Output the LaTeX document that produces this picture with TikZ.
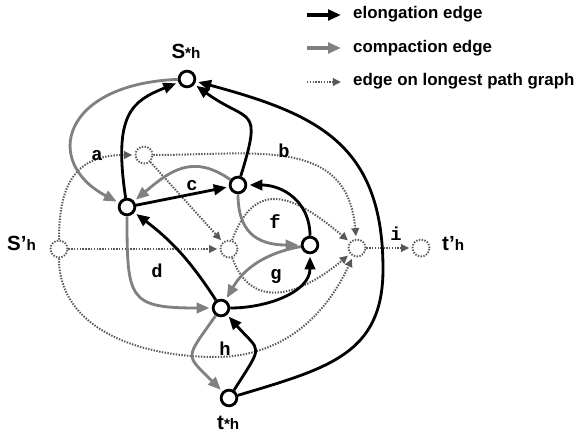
\documentclass[tikz,border=0pt]{standalone}
\usepackage{fontspec}
\setmainfont{Liberation Sans}
\setmonofont{Liberation Mono}
\usetikzlibrary{arrows.meta}

\definecolor{cmpgray}{gray}{0.5}
\definecolor{lpgray}{gray}{0.35}
\newcommand{\Lbig}{\fontsize{17.5pt}{17.5pt}\selectfont\bfseries}
\newcommand{\Lsmall}{\fontsize{13pt}{13pt}\selectfont\bfseries}

\begin{document}
\begin{tikzpicture}[x=0.03cm, y=0.03cm,
  vtx/.style={circle, draw, line width=2.4pt, fill=white, minimum size=13.4pt, inner sep=0pt},
  dvtx/.style={circle, draw=lpgray, line width=1.6pt, dash pattern=on 1.2pt off 1.2pt, minimum size=14.5pt, inner sep=0pt},
  vlab/.style={inner sep=0pt},
  elab/.style={inner sep=0pt, anchor=base, font=\ttfamily\bfseries\fontsize{16pt}{16pt}\selectfont},
  keytxt/.style={inner sep=0pt, anchor=base west, font=\bfseries\fontsize{14.4pt}{16pt}\selectfont},
  elong/.style={line width=2.4pt, -{Triangle[length=11pt,width=9pt]}, shorten >=2pt},
  compact/.style={draw=cmpgray, line width=2.4pt, -{Triangle[length=11pt,width=9pt,fill=cmpgray]}, shorten >=2pt},
  lpath/.style={draw=lpgray, line width=1.7pt, dash pattern=on 1.2pt off 1.2pt, -{Triangle[length=7pt,width=6.5pt,fill=lpgray]}, shorten >=2pt}]
\useasboundingbox (0,0) rectangle (578,434);

% vertices
\node[vtx] (sstar) at (187,355) {};
\node[vtx] (n1) at (127,227) {};
\node[vtx] (n2) at (238,249) {};
\node[vtx] (n3) at (310,189) {};
\node[vtx] (n4) at (221,126) {};
\node[vtx] (tstar) at (229,36) {};
\node[dvtx] (sprime) at (59,185) {};
\node[dvtx] (u1) at (144,279) {};
\node[dvtx] (u2) at (229,185) {};
\node[dvtx] (u3) at (357,186) {};
\node[dvtx] (tprime) at (421,186) {};
\coordinate (hbot) at (215,77);
\coordinate (rgt) at (383,165);

% vertex labels
\node[vlab, anchor=base] (lsstar) at (186,376) {{\Lbig S}{\Lsmall *h}};
\node[vlab, anchor=base west] (lsprime) at (7,184) {{\Lbig S’}{\Lsmall h}};
\node[vlab, anchor=base west] (ltprime) at (442,184) {{\Lbig t’}{\Lsmall h}};
\node[vlab, anchor=base west] (ltstar) at (217,5) {{\Lbig t}{\Lsmall *h}};

% longest path graph
\draw[lpath] (sprime) to[out=90,in=180,looseness=1.3] (u1);
\draw[lpath] (sprime) -- (u2);
\draw[lpath] (sprime) to[out=-90,in=180] (hbot) to[out=0,in=-115] (u3);
\draw[lpath] (u1) -- (u2);
\draw[lpath] (u1) to[out=0,in=95,looseness=1.2] (u3);
\draw[lpath] (u2) to[out=70,in=140,looseness=1.5] (u3);
\draw[lpath] (u2) to[out=-70,in=-140,looseness=1.3] (u3);
\draw[lpath] (u3) -- (tprime);

% compaction edges
\draw[compact] (sstar) .. controls +(-125,-5) and +(-85,45) .. (n1);
\draw[compact] (n2) to[out=145,in=40,looseness=1.2] (n1);
\draw[compact] (n2) .. controls +(0,-45) and +(-55,0) .. (n3);
\draw[compact] (n1) to[out=-90,in=180,looseness=1.7] (n4);
\draw[compact] (n3) to[out=190,in=60] (n4);
\draw[compact] (n4) to[out=235,in=135,looseness=1.8] (tstar);

% elongation edges
\draw[elong] (n1) .. controls +(-14,93) and +(-55,-22) .. (sstar);
\draw[elong] (n2) .. controls +(25,81) and +(62,-45) .. (sstar);
\draw[elong] (tstar) .. controls +(100,30) and +(0,-85) .. (rgt) .. controls +(0,125) and +(130,-35) .. (sstar);
\draw[elong] (n4) to[bend right=10] (n1);
\draw[elong] (n1) -- (n2);
\draw[elong] (n4) to[out=0,in=-90] (n3);
\draw[elong] (n3) to[out=90,in=0,looseness=1.1] (n2);
\draw[elong] (tstar) .. controls +(35,55) and +(40,-45) .. (n4);

% edge labels
\node[elab] (la) at (97,274) {a};
\node[elab] (lb) at (284,277) {b};
\node[elab] (lc) at (192,244) {c};
\node[elab] (ld) at (157,157) {d};
\node[elab] (lf) at (275,206) {f};
\node[elab] (lg) at (276,155) {g};
\node[elab] (lh) at (225,79) {h};
\node[elab] (li) at (396,194) {i};

% legend
\coordinate (k1a) at (307,419); \coordinate (k1b) at (341,419);
\coordinate (k2a) at (307,386); \coordinate (k2b) at (341,386);
\coordinate (k3a) at (307,352); \coordinate (k3b) at (341,352);
\draw[elong, line width=3pt, shorten >=0pt] (k1a) -- (k1b);
\draw[compact, line width=3pt, shorten >=0pt] (k2a) -- (k2b);
\draw[lpath, shorten >=0pt] (k3a) -- (k3b);
\node[keytxt] (t1) at (353,416) {elongation edge};
\node[keytxt] (t2) at (353,382) {compaction edge};
\node[keytxt] (t3) at (353,349) {edge on longest path graph};
\end{tikzpicture}
\end{document}
